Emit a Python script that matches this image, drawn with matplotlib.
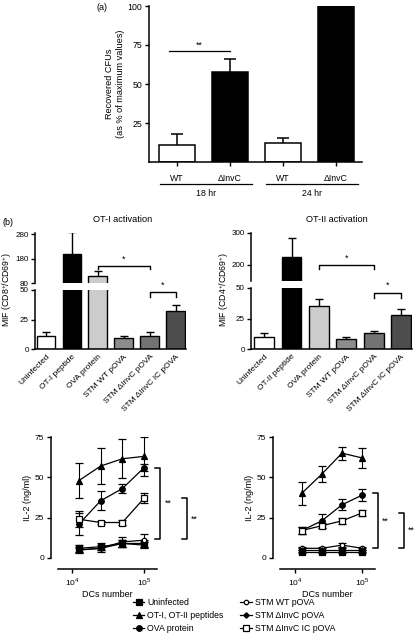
import matplotlib
matplotlib.use("Agg")
import matplotlib.pyplot as plt
import numpy as np

plt.rcParams['font.family'] = ['Liberation Sans', 'DejaVu Sans']
plt.rcParams['font.size'] = 6
plt.rcParams['axes.linewidth'] = 1.1
plt.rcParams['xtick.major.width'] = 1.0
plt.rcParams['ytick.major.width'] = 1.0
plt.rcParams['xtick.major.size'] = 3
plt.rcParams['ytick.major.size'] = 3
plt.rcParams['xtick.major.pad'] = 2
plt.rcParams['ytick.major.pad'] = 2
plt.rcParams['mathtext.fontset'] = 'custom'
plt.rcParams['mathtext.rm'] = 'Liberation Sans'

W, H = 416, 635

# ---- panel (a) data
cfu_groups = ["WT", "\u0394InvC", "WT", "\u0394InvC"]
cfu_times = ["18 hr", "24 hr"]
cfu_mean = [11, 58, 12, 100]
cfu_err = [7, 8, 3.5, 0]
cfu_colors = ["white", "black", "white", "black"]

# ---- panel (b) data
cond_ot1 = ["Uninfected", "OT-I peptide", "OVA protein", "STM WT pOVA",
            "STM \u0394InvC pOVA", "STM \u0394InvC IC pOVA"]
cond_ot2 = ["Uninfected", "OT-II peptide", "OVA protein", "STM WT pOVA",
            "STM \u0394InvC pOVA", "STM \u0394InvC IC pOVA"]
mif_ot1 = [11, 200, 110, 9, 11, 32]
mif_ot1_err = [3, 90, 20, 2, 3, 5]
mif_ot2 = [10, 225, 35, 8.5, 13, 27.5]
mif_ot2_err = [3, 60, 6, 1, 2, 5]
bar_colors = ["white", "black", "#cccccc", "#8c8c8c", "#737373", "#4d4d4d"]

# ---- panel (c) data
dcs = [12500, 25000, 50000, 100000]
series = ["Uninfected", "OT-I, OT-II peptides", "OVA protein",
          "STM WT pOVA", "STM \u0394InvC pOVA", "STM \u0394InvC IC pOVA"]
il2_left = {
    "Uninfected": ([6, 7, 9, 9], [2, 2, 2, 2]),
    "OT-I, OT-II peptides": ([48, 57, 61.5, 63], [11, 11, 12, 12]),
    "OVA protein": ([21, 35.5, 43, 56], [7, 6, 3, 2]),
    "STM WT pOVA": ([5, 6, 10, 11], [2, 2, 3, 4]),
    "STM \u0394InvC pOVA": ([5, 6, 9, 8], [1, 1, 2, 2]),
    "STM \u0394InvC IC pOVA": ([24, 22, 22, 37], [5, 1, 1.5, 3]),
}
il2_right = {
    "Uninfected": ([4, 4, 4, 4], [1, 1, 1, 1]),
    "OT-I, OT-II peptides": ([40, 52, 65, 62], [7, 5, 4, 6]),
    "OVA protein": ([17, 23, 33, 39], [2, 4.5, 3.5, 3.5]),
    "STM WT pOVA": ([6, 6, 8, 6], [1, 1, 1, 1]),
    "STM \u0394InvC pOVA": ([5, 5, 5, 5], [1, 1, 1, 1]),
    "STM \u0394InvC IC pOVA": ([17, 20, 23, 28], [2, 1.5, 2, 2]),
}
styles = {
    "Uninfected": dict(marker="s", mfc="black"),
    "OT-I, OT-II peptides": dict(marker="^", mfc="black"),
    "OVA protein": dict(marker="o", mfc="black"),
    "STM WT pOVA": dict(marker="o", mfc="white", markersize=3.2),
    "STM \u0394InvC pOVA": dict(marker="D", mfc="black", markersize=2.8),
    "STM \u0394InvC IC pOVA": dict(marker="s", mfc="white"),
}


def box(x0, y0, x1, y1):
    return [x0 / W, 1 - y1 / H, (x1 - x0) / W, (y1 - y0) / H]


def fx(x):
    return x / W


def fy(y):
    return 1 - y / H


def clean(ax):
    ax.spines['top'].set_visible(False)
    ax.spines['right'].set_visible(False)


fig = plt.figure(figsize=(W / 100, H / 100), dpi=100)

# ================= panel (a)
ax = fig.add_axes(box(149, 6, 362, 162))
clean(ax)
xa = np.arange(4)
ax.errorbar(xa, cfu_mean, yerr=cfu_err, fmt="none", ecolor="black",
            elinewidth=1.1, capsize=4, capthick=1.1, zorder=1)
ax.bar(xa, cfu_mean, width=0.68, color=cfu_colors, edgecolor="black",
       linewidth=1.1, zorder=2)
ax.set_ylim(0, 100)
ax.set_xlim(-0.53, 3.49)
ax.set_yticks([25, 50, 75, 100])
ax.tick_params(axis="y", labelsize=6.3)
ax.set_xticks(xa)
ax.set_xticklabels([])
ax.tick_params(axis="x", direction="out", length=3)
tr = ax.get_xaxis_transform()
for i, g in enumerate(cfu_groups):
    ax.text(i, -0.105, g, transform=tr, ha="center", va="center",
            fontsize=6.3)
for k, t in enumerate(cfu_times):
    x0, x1 = 2 * k - 0.32, 2 * k + 1.42
    ax.plot([x0, x1], [-0.14, -0.14], color="black", lw=0.9,
            transform=tr, clip_on=False)
    ax.text((x0 + x1) / 2, -0.2, t, transform=tr, ha="center", va="center",
            fontsize=6.3)
ax.plot([-0.15, 1.0], [71, 71], color="black", lw=0.9)
ax.text(0.42, 72, "**", ha="center", va="bottom", fontsize=6.3)
fig.text(fx(115), fy(84), "Recovered CFUs\n(as % of maximum values)",
         rotation=90, ha="center", va="center", fontsize=6.6,
         linespacing=1.3)
fig.text(fx(102), fy(8), "(a)", ha="center", va="center", fontsize=6.5)


# ================= panel (b)
def broken_bars(xpx0, xpx1, top_box, bot_box, vals, errs, names,
                ylim_top, ylim_bot, yt_top, yt_bot, xlim, title, tx,
                ylab, lx, br1, br2):
    ax_t = fig.add_axes(box(xpx0, top_box[0], xpx1, top_box[1]))
    ax_b = fig.add_axes(box(xpx0, bot_box[0], xpx1, bot_box[1]))
    x = np.arange(len(vals))
    for a in (ax_t, ax_b):
        clean(a)
        a.errorbar(x, vals, yerr=errs, fmt="none", ecolor="black",
                   elinewidth=1.0, capsize=3, capthick=1.0, zorder=1)
        a.bar(x, vals, width=0.72, color=bar_colors, edgecolor="black",
              linewidth=1.0, zorder=2)
        a.set_xlim(*xlim)
        a.tick_params(axis="y", labelsize=5.8, pad=1.5)
    ax_t.set_ylim(*ylim_top)
    ax_b.set_ylim(*ylim_bot)
    ax_t.set_yticks(yt_top)
    ax_b.set_yticks(yt_bot)
    ax_t.spines['bottom'].set_visible(False)
    ax_t.set_xticks([])
    ax_b.set_xticks(x)
    ax_b.set_xticklabels(names, rotation=45, ha="right",
                         rotation_mode="anchor", fontsize=6)
    ax_b.tick_params(axis="x", length=0, pad=3)
    # significance brackets
    for which, (xa1, xb1), y1, d1 in (br1, br2):
        a1 = ax_t if which == "t" else ax_b
        a1.plot([xa1, xa1, xb1, xb1], [y1 - d1, y1, y1, y1 - d1],
                color="black", lw=1.0, clip_on=False)
        a1.text((xa1 + xb1) / 2, y1 + d1 * 0.6, "*", ha="center",
                va="bottom", fontsize=6.3, clip_on=False)
    fig.text(fx(tx), fy(219), title, ha="center", va="center", fontsize=6.6)
    fig.text(fx(lx), fy(290), ylab, rotation=90, ha="center", va="center",
             fontsize=6.3)
    return ax_t, ax_b


broken_bars(35, 186, (233, 283), (290, 349), mif_ot1, mif_ot1_err, cond_ot1,
            (80, 285), (0, 50), [80, 180, 280], [0, 25, 50],
            (-0.42, 5.4), "OT-I activation", 123,
            "MIF (CD8$^{+}$/CD69$^{+}$)", 7,
            ("t", (2, 4), 150, 12), ("b", (4, 5), 48, 4))
broken_bars(251, 412, (233, 281), (288, 349), mif_ot2, mif_ot2_err, cond_ot2,
            (150, 300), (0, 50), [200, 300], [0, 25, 50],
            (-0.48, 5.4), "OT-II activation", 337,
            "MIF (CD4$^{+}$/CD69$^{+}$)", 224,
            ("t", (2, 4), 200, 12), ("b", (4, 5), 46, 4))
fig.text(fx(8), fy(223), "(b)", ha="center", va="center", fontsize=6.5)


# ================= panel (c)
def il2_panel(bx, data, lx0, lx1, br1, br2):
    a = fig.add_axes(box(bx[0], 437, bx[1], 558))
    clean(a)
    a.set_xscale("log")
    handles = []
    for name in series:
        m, e = data[name]
        st = dict(markersize=4, color="black", mec="black", mew=0.9, lw=0.9)
        st.update(styles[name])
        h = a.errorbar(dcs, m, yerr=e, capsize=2.8, elinewidth=0.8,
                       capthick=0.8, label=name, **st)
        handles.append(h[0])
    a.set_xlim(10 ** lx0, 10 ** lx1)
    a.set_ylim(0, 75)
    a.set_yticks([0, 25, 50, 75])
    a.set_xticks([1e4, 1e5])
    a.set_xticklabels(["$10^4$", "$10^5$"])
    a.xaxis.set_minor_locator(plt.NullLocator())
    a.tick_params(labelsize=6)
    a.spines['left'].set_position(('outward', 5))
    a.spines['bottom'].set_position(('outward', 8))
    a.set_xlabel("DCs number", fontsize=6.5, labelpad=1.5)
    a.set_ylabel("IL-2 (ng/ml)", fontsize=6.5, labelpad=2)
    for (xb, yt, yb) in (br1, br2):
        a.plot([xb - 0.05, xb, xb, xb - 0.05], [yt, yt, yb, yb],
               color="black", lw=1.1, transform=a.get_yaxis_transform(),
               clip_on=False)
        a.text(xb + 0.08, (yt + yb) / 2, "**", ha="center",
               va="center", fontsize=6.3,
               transform=a.get_yaxis_transform())
    return handles


hl = il2_panel((58, 157), il2_left, 3.806, 5.18,
               (1.03, 56, 12), (1.3, 37, 11.5))
il2_panel((280, 375), il2_right, 3.776, 5.19,
          (1.03, 40, 6), (1.3, 28, 6))

fig.legend(handles=hl, labels=series, ncol=2, loc="upper left",
           bbox_to_anchor=(fx(133), fy(598)), frameon=False, fontsize=6.3,
           handlelength=1.3, handletextpad=0.35, columnspacing=1.9,
           labelspacing=0.45, borderpad=0, borderaxespad=0)

fig.savefig("out.png", dpi=100)
